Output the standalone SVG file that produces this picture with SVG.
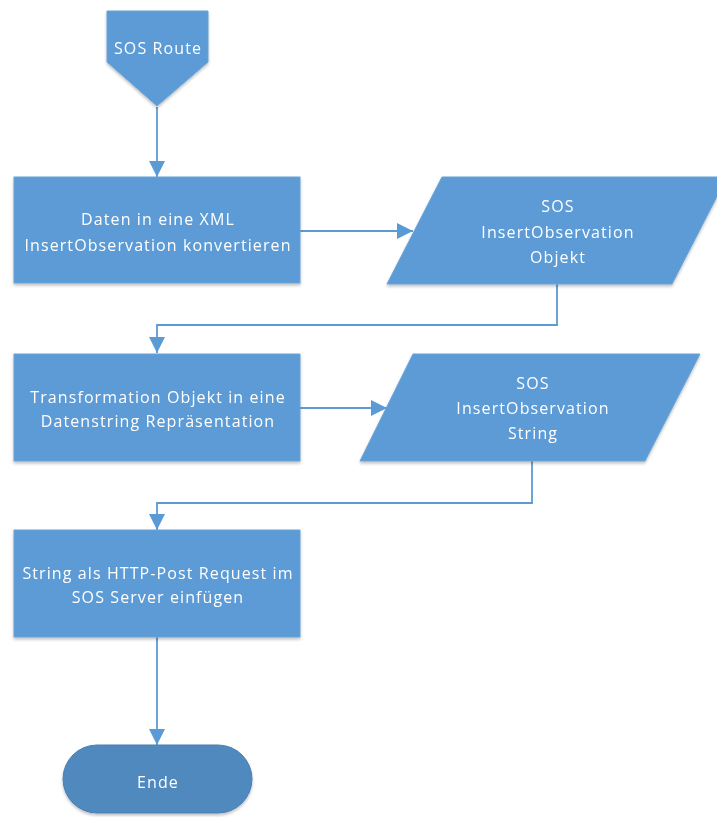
<svg xmlns="http://www.w3.org/2000/svg" width="717" height="817" viewBox="0 0 717 817">
  <style>
    .shape { fill: #5b9bd5; stroke: #6aa3d8; stroke-width: 1; }
    .term { fill: #4f89be; stroke: #4a80b2; stroke-width: 1; }
    .label { font-family: "Open Sans", "Noto Sans", "DejaVu Sans", sans-serif; font-size: 16px; letter-spacing: 1.1px; fill: #ffffff; text-anchor: middle; }
    .edge { fill: none; stroke: #5b9bd5; stroke-width: 1.8; }
  </style>
  <defs>
    <marker id="arrow" markerUnits="userSpaceOnUse" markerWidth="18" markerHeight="18" refX="16" refY="8" orient="auto">
      <path d="M0,0 L16,8 L0,16 Z" fill="#5b9bd5"/>
    </marker>
    <filter id="shadow" x="-10%" y="-10%" width="120%" height="130%">
      <feGaussianBlur in="SourceAlpha" stdDeviation="1.5"/>
      <feOffset dx="0" dy="2" result="b"/>
      <feComponentTransfer><feFuncA type="linear" slope="0.25"/></feComponentTransfer>
      <feMerge><feMergeNode/><feMergeNode in="SourceGraphic"/></feMerge>
    </filter>
  </defs>
  <rect width="717" height="817" fill="#ffffff"/>

  <!-- connectors -->
  <g id="connectors">
    <path class="edge" d="M157,107 V177" marker-end="url(#arrow)"/>
    <path class="edge" d="M300,231 H413" marker-end="url(#arrow)"/>
    <path class="edge" d="M557,284 V325 H157 V353" marker-end="url(#arrow)"/>
    <path class="edge" d="M300,408 H387" marker-end="url(#arrow)"/>
    <path class="edge" d="M532,461 V503 H157 V530" marker-end="url(#arrow)"/>
    <path class="edge" d="M157,637 V745" marker-end="url(#arrow)"/>
  </g>

  <!-- off-page start connector -->
  <g id="sos-route" filter="url(#shadow)">
    <polygon class="shape" points="107,11 208,11 208,62 157,106 107,62"/>
    <text class="label" x="158" y="54">SOS Route</text>
  </g>

  <g id="convert-xml" filter="url(#shadow)">
    <rect class="shape" x="14" y="177" width="286" height="106"/>
    <text class="label" x="158" y="225">Daten in eine XML</text>
    <text class="label" x="158" y="251">InsertObservation konvertieren</text>
  </g>

  <g id="observation-object" filter="url(#shadow)">
    <polygon class="shape" points="442,177 727,177 672,284 387,284"/>
    <text class="label" x="558" y="212">SOS</text>
    <text class="label" x="558" y="238">InsertObservation</text>
    <text class="label" x="558" y="263">Objekt</text>
  </g>

  <g id="transform-string" filter="url(#shadow)">
    <rect class="shape" x="14" y="354" width="286" height="107"/>
    <text class="label" x="158" y="403">Transformation Objekt in eine</text>
    <text class="label" x="158" y="427">Datenstring Repräsentation</text>
  </g>

  <g id="observation-string" filter="url(#shadow)">
    <polygon class="shape" points="413,354 700,354 645,461 360,461"/>
    <text class="label" x="533" y="389">SOS</text>
    <text class="label" x="533" y="414">InsertObservation</text>
    <text class="label" x="533" y="439">String</text>
  </g>

  <g id="http-post" filter="url(#shadow)">
    <rect class="shape" x="14" y="530" width="286" height="107"/>
    <text class="label" x="158" y="579">String als HTTP-Post Request im</text>
    <text class="label" x="158" y="603">SOS Server einfügen</text>
  </g>

  <g id="ende" filter="url(#shadow)">
    <rect class="term" x="63" y="745" width="189" height="68" rx="34" ry="34"/>
    <text class="label" x="158" y="788">Ende</text>
  </g>
</svg>
